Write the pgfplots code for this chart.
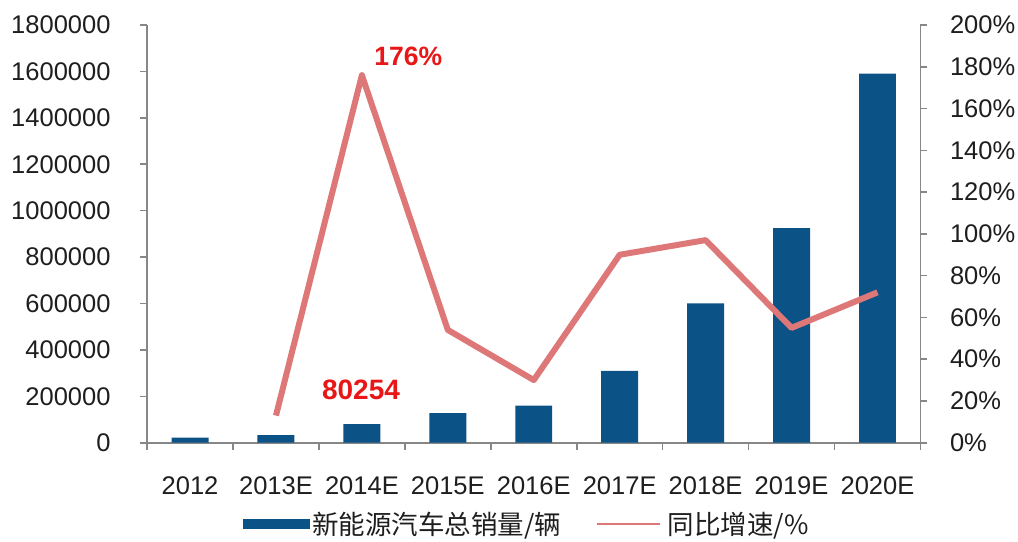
\documentclass[border=0pt]{standalone}
\usepackage{pgfplots}
\pgfplotsset{compat=1.18}
\usepackage{fontspec}
\setmainfont{Liberation Sans}
\newfontfamily\cjk{Noto Sans CJK SC}
\definecolor{barblue}{RGB}{11,82,134}
\definecolor{linered}{RGB}{222,120,120}
\definecolor{axgray}{RGB}{135,135,135}
\definecolor{annred}{RGB}{232,22,22}
\definecolor{txt}{RGB}{30,30,30}

\pgfplotstableread{
x val
0 22000
1 33000
2 80254
3 128000
4 160000
5 310000
6 600000
7 925000
8 1590000
}\sales

\pgfplotstableread{
x g
1 13
2 176
3 54
4 30
5 90
6 97
7 55
8 72
}\growth

\begin{document}
\begin{tikzpicture}
\pgfplotsset{
 common/.style={
  scale only axis, width=773pt, height=417.5pt,
  xmin=-0.5, xmax=8.5,
  tick align=outside,
  axis line style={axgray, line width=1.6pt},
  every tick/.style={axgray, line width=1.6pt},
  major tick length=7pt, minor tick length=7pt,
  every tick label/.append style={font=\fontsize{25.5}{30}\selectfont, text=txt},
  /pgf/number format/assume math mode=true,
  clip=false,
 }
}
\begin{axis}[common,
  ymin=0, ymax=1800000,
  ytick={0,200000,400000,600000,800000,1000000,1200000,1400000,1600000,1800000},
  scaled y ticks=false,
  yticklabel style={/pgf/number format/fixed, /pgf/number format/1000 sep={}, xshift=-26pt},
  axis x line*=bottom, axis y line*=left,
  xtick={0,1,2,3,4,5,6,7,8},
  xticklabels={2012,2013E,2014E,2015E,2016E,2017E,2018E,2019E,2020E},
  major x tick style={draw=none},
  minor xtick={-0.5,0.5,1.5,2.5,3.5,4.5,5.5,6.5,7.5,8.5},
  xticklabel style={yshift=-23pt},
  legend columns=2,
  legend style={draw=none, fill=none, at={(0.491,-0.195)}, anchor=center,
    font=\cjk\fontsize{26.5}{30}\selectfont, text=txt,
    /tikz/every even column/.append style={column sep=33pt}},
]
\addplot[ybar, bar width=0.43, fill=barblue, draw=none,
  legend image code/.code={\fill[barblue] (0pt,-5.25pt) rectangle (67pt,5.25pt);}]
  table[x=x, y=val] {\sales};
\addlegendentry{新能源汽车总销量/辆}
\addlegendimage{legend image code/.code={\draw[linered, line width=2.5pt] (0pt,0pt) -- (63pt,0pt);}}
\addlegendentry{\hspace{4pt}同比增速/\%}
\node[annred, font=\bfseries\fontsize{28}{32}\selectfont] at (axis cs:1.99,226300) {80254};
\coordinate (ll) at (rel axis cs:0,0);
\coordinate (ur) at (rel axis cs:1,1);
\end{axis}
\begin{axis}[common,
  ymin=0, ymax=200,
  ytick={0,20,...,200},
  yticklabel={\pgfmathprintnumber{\tick}\%},
  yticklabel style={xshift=19pt},
  axis y line*=right, axis x line=none,
]
\addplot[linered, line width=6pt, line join=round, no marks] table[x=x, y=g] {\growth};
\node[annred, font=\bfseries\fontsize{26.5}{30}\selectfont] at (axis cs:2.54,185.1) {176\%};
\end{axis}
\pgfresetboundingbox
\useasboundingbox ([shift={(-147pt,-98.5pt)}]ll) rectangle ([shift={(97.5pt,25pt)}]ur);
\end{tikzpicture}
\end{document}
